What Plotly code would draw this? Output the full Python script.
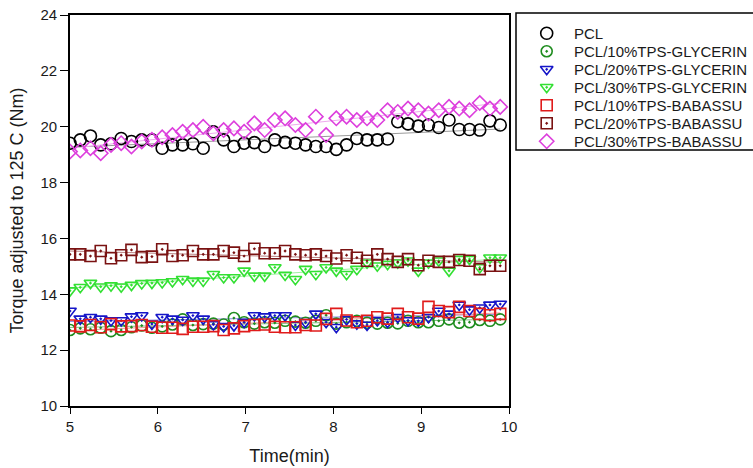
import numpy as np
import plotly.graph_objects as go

# Sampling times (min), one reading every 7 s
time_min = [5.000, 5.117, 5.233, 5.350, 5.467, 5.583, 5.700, 5.817, 5.933, 6.050,
            6.167, 6.283, 6.400, 6.517, 6.633, 6.750, 6.867, 6.983, 7.100, 7.217,
            7.333, 7.450, 7.567, 7.683, 7.800, 7.917, 8.033, 8.150, 8.267, 8.383,
            8.500, 8.617, 8.733, 8.850, 8.967, 9.083, 9.200, 9.317, 9.433, 9.550,
            9.667, 9.783, 9.900]

pcl = [19.41, 19.53, 19.67, 19.35, 19.39, 19.58, 19.47, 19.53, 19.53, 19.23,
       19.35, 19.35, 19.39, 19.23, 19.82, 19.53, 19.29, 19.41, 19.43, 19.29,
       19.53, 19.44, 19.41, 19.35, 19.29, 19.29, 19.19, 19.35, 19.58, 19.53,
       19.53, 19.56, 20.18, 20.10, 20.02, 20.06, 19.97, 20.24, 19.90, 19.90,
       19.88, 20.21, 20.06]

gly10 = [12.72, 12.78, 12.75, 12.80, 12.68, 12.72, 12.82, 12.88, 12.80, 12.85,
         12.92, 13.10, 12.90, 12.93, 12.95, 12.92, 13.15, 13.00, 12.95, 13.00,
         12.98, 13.05, 13.02, 12.98, 13.05, 13.25, 12.95, 13.00, 13.05, 12.98,
         12.95, 12.98, 12.96, 13.05, 13.00, 13.00, 13.05, 13.10, 12.98, 13.00,
         13.08, 13.05, 13.10]

gly20 = [13.40, 13.12, 13.18, 13.12, 13.06, 13.06, 13.20, 13.24, 12.94, 13.18,
         13.12, 13.08, 13.24, 13.12, 12.92, 12.85, 12.88, 13.00, 13.24, 13.20,
         13.24, 13.24, 12.90, 13.00, 13.30, 13.00, 12.82, 13.10, 12.95, 12.90,
         13.06, 13.00, 13.18, 13.06, 13.05, 13.18, 13.40, 13.30, 13.62, 13.45,
         13.52, 13.62, 13.65]

gly30 = [14.13, 14.25, 14.40, 14.27, 14.31, 14.27, 14.33, 14.39, 14.40, 14.42,
         14.46, 14.54, 14.48, 14.48, 14.72, 14.60, 14.60, 14.84, 14.66, 14.66,
         14.96, 14.69, 14.54, 14.90, 14.72, 14.96, 14.84, 14.72, 14.90, 15.13,
         15.02, 15.08, 15.13, 15.20, 14.84, 15.13, 15.20, 14.84, 15.26, 15.26,
         14.96, 15.31, 15.31]

bab10 = [12.88, 12.85, 12.90, 12.82, 12.93, 12.85, 12.86, 12.90, 12.84, 12.80,
         12.80, 12.76, 12.84, 12.84, 12.86, 12.72, 12.78, 12.86, 12.90, 12.92,
         12.84, 12.82, 12.82, 12.90, 12.88, 13.12, 13.30, 13.06, 13.00, 13.05,
         13.18, 13.13, 13.30, 13.18, 13.13, 13.55, 13.40, 13.36, 13.55, 13.40,
         13.30, 13.25, 13.30]

bab20 = [15.43, 15.43, 15.37, 15.55, 15.29, 15.40, 15.59, 15.33, 15.35, 15.61,
         15.37, 15.40, 15.55, 15.43, 15.43, 15.55, 15.49, 15.37, 15.63, 15.47,
         15.47, 15.55, 15.43, 15.40, 15.43, 15.37, 15.28, 15.40, 15.31, 15.20,
         15.43, 15.26, 15.16, 15.26, 15.04, 15.20, 15.16, 15.16, 15.23, 15.20,
         14.90, 15.02, 15.02]

bab30 = [19.11, 19.15, 19.23, 19.05, 19.35, 19.41, 19.29, 19.47, 19.53, 19.62,
         19.70, 19.82, 19.88, 20.00, 19.76, 19.88, 19.94, 19.82, 20.12, 19.88,
         20.24, 20.30, 20.06, 19.88, 20.36, 19.70, 20.30, 20.36, 20.24, 20.30,
         20.24, 20.59, 20.53, 20.65, 20.59, 20.47, 20.59, 20.71, 20.65, 20.59,
         20.85, 20.65, 20.71]

series_names = ["PCL", "PCL/10%TPS-GLYCERIN", "PCL/20%TPS-GLYCERIN",
                "PCL/30%TPS-GLYCERIN", "PCL/10%TPS-BABASSU",
                "PCL/20%TPS-BABASSU", "PCL/30%TPS-BABASSU"]
series_values = [pcl, gly10, gly20, gly30, bab10, bab20, bab30]
series_colors = ["#000000", "#1e8c1e", "#1515c8", "#33e033", "#e01b1b",
                 "#7a1212", "#dd3fdd"]
fit_colors = ["#9a9a9a", "#7fbf7f", "#8a8ae0", "#9ff09f", "#f09a9a",
              "#b88080", "#eeaaee"]
series_symbols = ["circle-open", "circle-open-dot", "triangle-down-open-dot",
                  "triangle-down-open-dot", "square-open", "square-open-dot",
                  "diamond-open"]
series_sizes = [12, 11, 11, 11, 11, 11, 11]

FONT = "Liberation Sans, Arial, sans-serif"
TXT = "#1a1a1a"

# figure geometry (px)
W, H = 753, 468
ML, MT, MB = 70, 13, 62
PW, PH = W - ML, H - MT - MB          # paper size
PLOT_RIGHT, PLOT_TOP = 509, 15        # right / top edge of the data frame
KEY_LEFT, KEY_BOTTOM = 516, 150       # key frame (open towards the right)
KEY_SYM_X, KEY_TXT_X = 546.7, 572     # key symbol centre / label start
KEY_ROW0, KEY_ROW_STEP = 33.3, 18.0   # key row spacing

t = np.array(time_min)
fig = go.Figure()

# linear regression lines underneath the data
for vals, fc in zip(series_values, fit_colors):
    slope, icpt = np.polyfit(t, np.array(vals), 1)
    fig.add_trace(go.Scatter(x=[t[0], t[-1]], y=[icpt + slope * t[0], icpt + slope * t[-1]],
                             mode="lines", line=dict(color=fc, width=1),
                             showlegend=False, hoverinfo="skip"))

for name, vals, col, sym, sz in zip(series_names, series_values, series_colors,
                                     series_symbols, series_sizes):
    fig.add_trace(go.Scatter(x=time_min, y=vals, mode="markers", name=name,
                             marker=dict(symbol=sym, size=sz, color=col,
                                         line=dict(color=col, width=1.6))))

# key: one row per series on an auxiliary axis pair
key_w = W - KEY_LEFT
key_h = KEY_BOTTOM - MT
sym_x = (KEY_SYM_X - KEY_LEFT) / key_w
txt_x = (KEY_TXT_X - KEY_LEFT) / key_w
row_bottom = (KEY_BOTTOM - KEY_ROW0) / KEY_ROW_STEP
row_top = -(KEY_ROW0 - MT) / KEY_ROW_STEP
for k, (name, col, sym, sz) in enumerate(zip(series_names, series_colors,
                                              series_symbols, series_sizes)):
    fig.add_trace(go.Scatter(x=[sym_x], y=[k], xaxis="x2", yaxis="y2", mode="markers",
                             marker=dict(symbol=sym, size=sz, color=col,
                                         line=dict(color=col, width=1.6)),
                             showlegend=False, hoverinfo="skip"))
    fig.add_annotation(x=txt_x, y=k, xref="x2", yref="y2", text=name, showarrow=False,
                       xanchor="left", yanchor="middle",
                       font=dict(family=FONT, size=15, color=TXT))

fig.add_shape(type="rect", xref="paper", yref="paper",
              x0=(KEY_LEFT - ML) / PW, x1=1.2,
              y0=(H - MB - KEY_BOTTOM) / PH, y1=1.0,
              line=dict(color="black", width=1.5), fillcolor="rgba(0,0,0,0)")

axis_common = dict(showline=True, linecolor="black", linewidth=1.6, mirror=True,
                   ticks="outside", tickwidth=1.2, tickcolor="black",
                   showgrid=False, zeroline=False,
                   tickfont=dict(family=FONT, size=15, color=TXT))

fig.update_layout(
    width=W, height=H,
    margin=dict(l=ML, r=0, t=MT, b=MB, autoexpand=False),
    paper_bgcolor="white", plot_bgcolor="white",
    showlegend=False,
    xaxis=dict(domain=[0, (PLOT_RIGHT - ML) / PW], range=[5, 10], dtick=1, ticklen=6,
               title=dict(text="Time(min)", standoff=16,
                          font=dict(family=FONT, size=18, color=TXT)),
               **axis_common),
    yaxis=dict(domain=[0, (H - MB - PLOT_TOP) / PH], range=[10, 24], dtick=2, ticklen=8,
               title=dict(text="Torque adjusted to 125 C (Nm)", standoff=12,
                          font=dict(family=FONT, size=18, color=TXT)),
               **axis_common),
    xaxis2=dict(domain=[(KEY_LEFT - ML) / PW, 1], range=[0, 1], visible=False,
                anchor="y2", fixedrange=True),
    yaxis2=dict(domain=[(H - MB - KEY_BOTTOM) / PH, 1], range=[row_bottom, row_top],
                visible=False, anchor="x2", fixedrange=True),
)

fig.write_html("out.html")
